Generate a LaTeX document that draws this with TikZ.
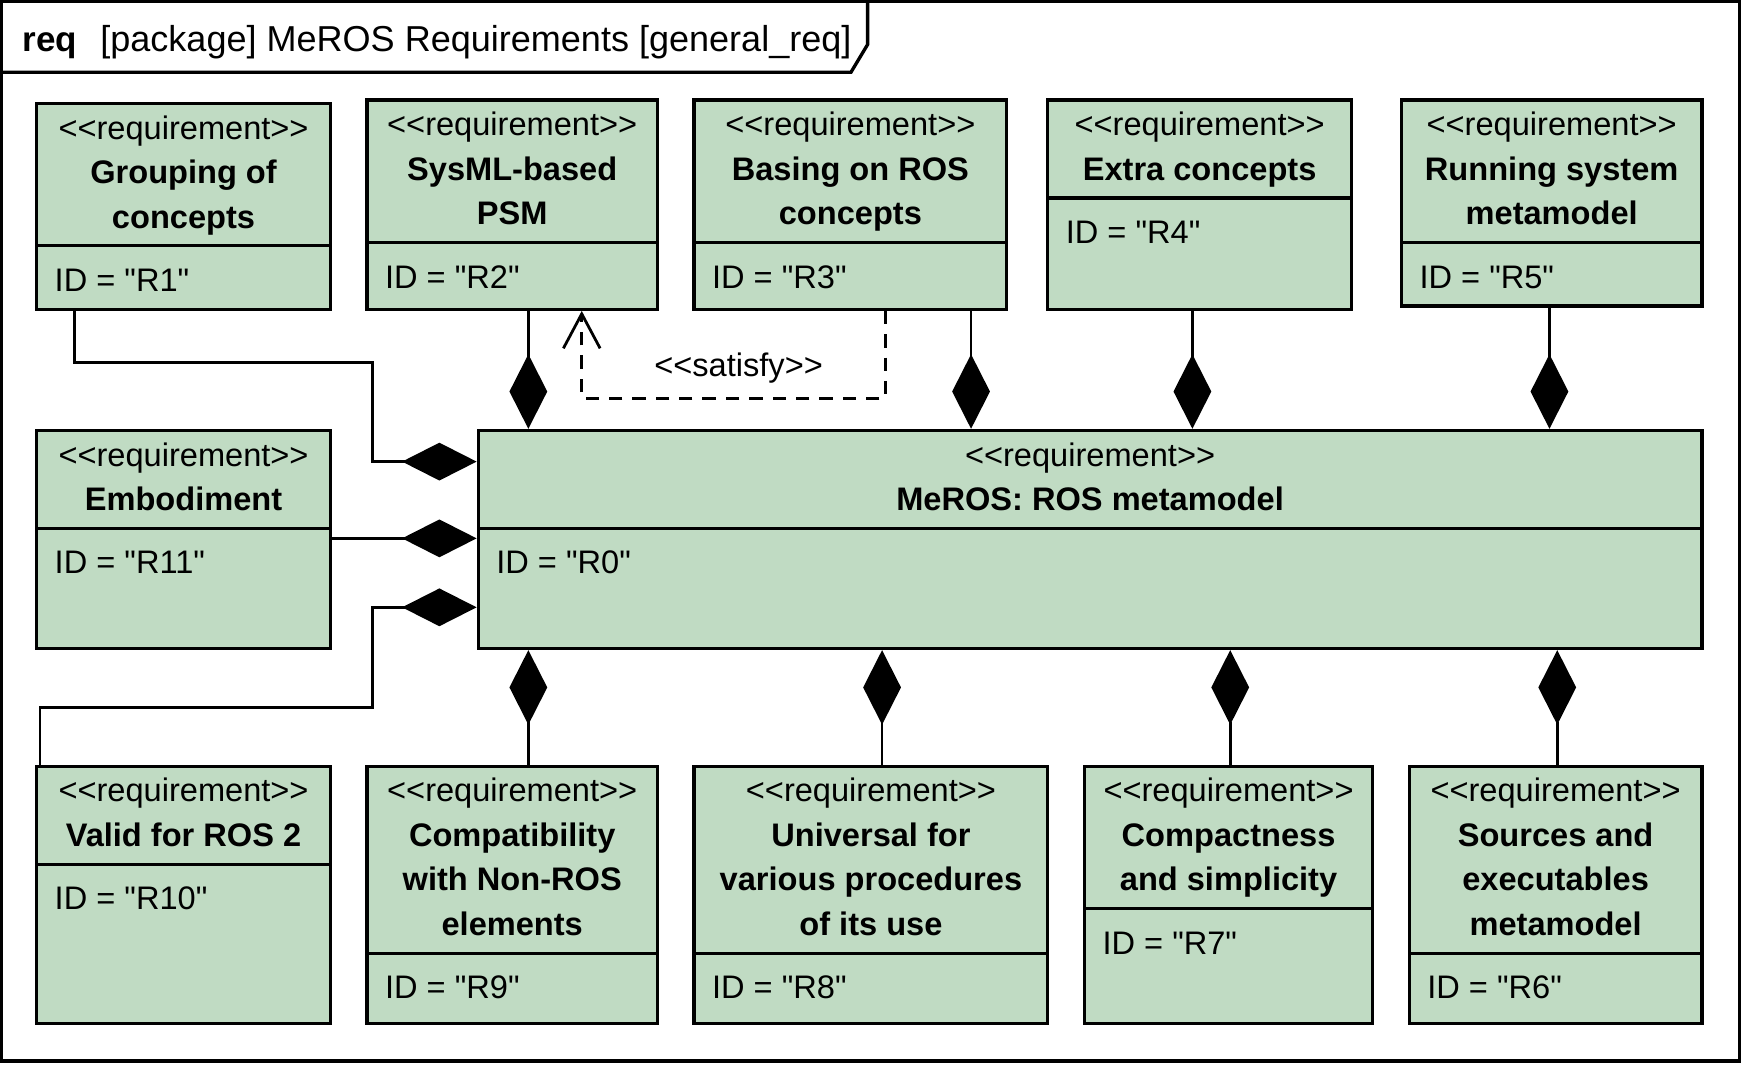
\documentclass[tikz,border=0pt]{standalone}
\usepackage{fontspec}
\newfontfamily\lsans{Liberation Sans}
\usetikzlibrary{arrows.meta,fit}
\definecolor{reqgreen}{RGB}{192,219,195}
\tikzset{
  reqbox/.style={draw, line width=3pt, fill=reqgreen, inner sep=0pt},
  sepline/.style={line width=3pt},
  txt/.style={font=\lsans\fontsize{29.3}{40}\selectfont, inner sep=0pt, anchor=base},
  nametxt/.style={txt, font=\lsans\bfseries\fontsize{29.3}{40}\selectfont},
  comp/.style={line width=2.5pt, -{Diamond[length=67pt,width=34pt]}},
  dep/.style={line width=2.5pt, dash pattern=on 12pt off 9pt, -{Straight Barb[length=31pt,width=33pt]}},
  frameline/.style={line width=3pt}
}
\newcommand{\reqbox}[8]{%
  \node[reqbox, fit={(#2,#3) (#4,#5)}] (#1) {};
  \pgfmathsetmacro\divy{#3+48+40*#6}
  \draw[sepline] (#2,\divy) -- (#4,\divy);
  \node[txt] (#1-st) at ({(#2+#4)/2},#3+32) {<<requirement>>};
  \foreach \ln [count=\k] in {#7} {\node[nametxt] (#1-n\k) at ({(#2+#4)/2},{#3+32+40*\k}) {\ln};}
  \node[txt, anchor=base west] (#1-id) at (#2+16,\divy+41) {ID = "#8"};
}
\begin{document}
\begin{tikzpicture}[x=1pt,y=-1pt]
\useasboundingbox (0,0) rectangle (1567,957.5);
% frame
\draw[frameline] (1.5,1.5) rectangle (1564,954);
\draw[frameline] (0,65) -- (765,65) -- (780,40) -- (780,0);
\node[txt, anchor=base west, font=\lsans\bfseries\fontsize{31.5}{36}\selectfont] (tkind) at (20,46) {req};
\node[txt, anchor=base west, font=\lsans\fontsize{32.4}{36}\selectfont] (tname) at (90,46) {[package] MeROS Requirements [general\_req]};
% boxes
\reqbox{R1}{33}{93}{297}{278}{2}{Grouping of,concepts}{R1}
\reqbox{R2}{330}{90}{591}{278}{2}{SysML-based,PSM}{R2}
\reqbox{R3}{624}{90}{905}{278}{2}{Basing on ROS,concepts}{R3}
\reqbox{R4}{942}{90}{1215}{278}{1}{Extra concepts}{R4}
\reqbox{R5}{1260}{90}{1530}{275}{2}{Running system,metamodel}{R5}
\reqbox{R11}{33}{387}{297}{583}{1}{Embodiment}{R11}
\reqbox{R0}{430}{387}{1530}{583}{1}{MeROS: ROS metamodel}{R0}
\reqbox{R10}{33}{689}{297}{920}{1}{Valid for ROS 2}{R10}
\reqbox{R9}{330}{689}{591}{920}{3}{Compatibility,with Non-ROS,elements}{R9}
\reqbox{R8}{624}{689}{942}{920}{3}{Universal for,various procedures,of its use}{R8}
\reqbox{R7}{975}{689}{1234}{920}{2}{Compactness,and simplicity}{R7}
\reqbox{R6}{1267}{689}{1530}{920}{3}{Sources and,executables,metamodel}{R6}
% top compositions
\draw[comp] (475,0 |- R2.south) -- (475,0 |- R0.north);
\draw[comp] (873,0 |- R3.south) -- (873,0 |- R0.north);
\draw[comp] (1072,0 |- R4.south) -- (1072,0 |- R0.north);
\draw[comp] (1393,0 |- R5.south) -- (1393,0 |- R0.north);
% bottom compositions
\draw[comp] (475,0 |- R9.north) -- (475,0 |- R0.south);
\draw[comp] (793,0 |- R8.north) -- (793,0 |- R0.south);
\draw[comp] (1106,0 |- R7.north) -- (1106,0 |- R0.south);
\draw[comp] (1400,0 |- R6.north) -- (1400,0 |- R0.south);
% left compositions
\draw[comp] (67,0 |- R1.south) -- (67,326) -- (335,326) -- (335,415) -- (R0.west |- 0,415);
\draw[comp] (R11.east |- 0,484) -- (R0.west |- 0,484);
\draw[comp] (36,0 |- R10.north) -- (36,636) -- (335,636) -- (335,546) -- (R0.west |- 0,546);
% satisfy
\draw[dep] (796,0 |- R3.south) -- (796,358) -- (523,358) -- (523,0 |- R2.south);
\node[txt, anchor=center] (satlbl) at (664,331) {<<satisfy>>};
\end{tikzpicture}
\end{document}
